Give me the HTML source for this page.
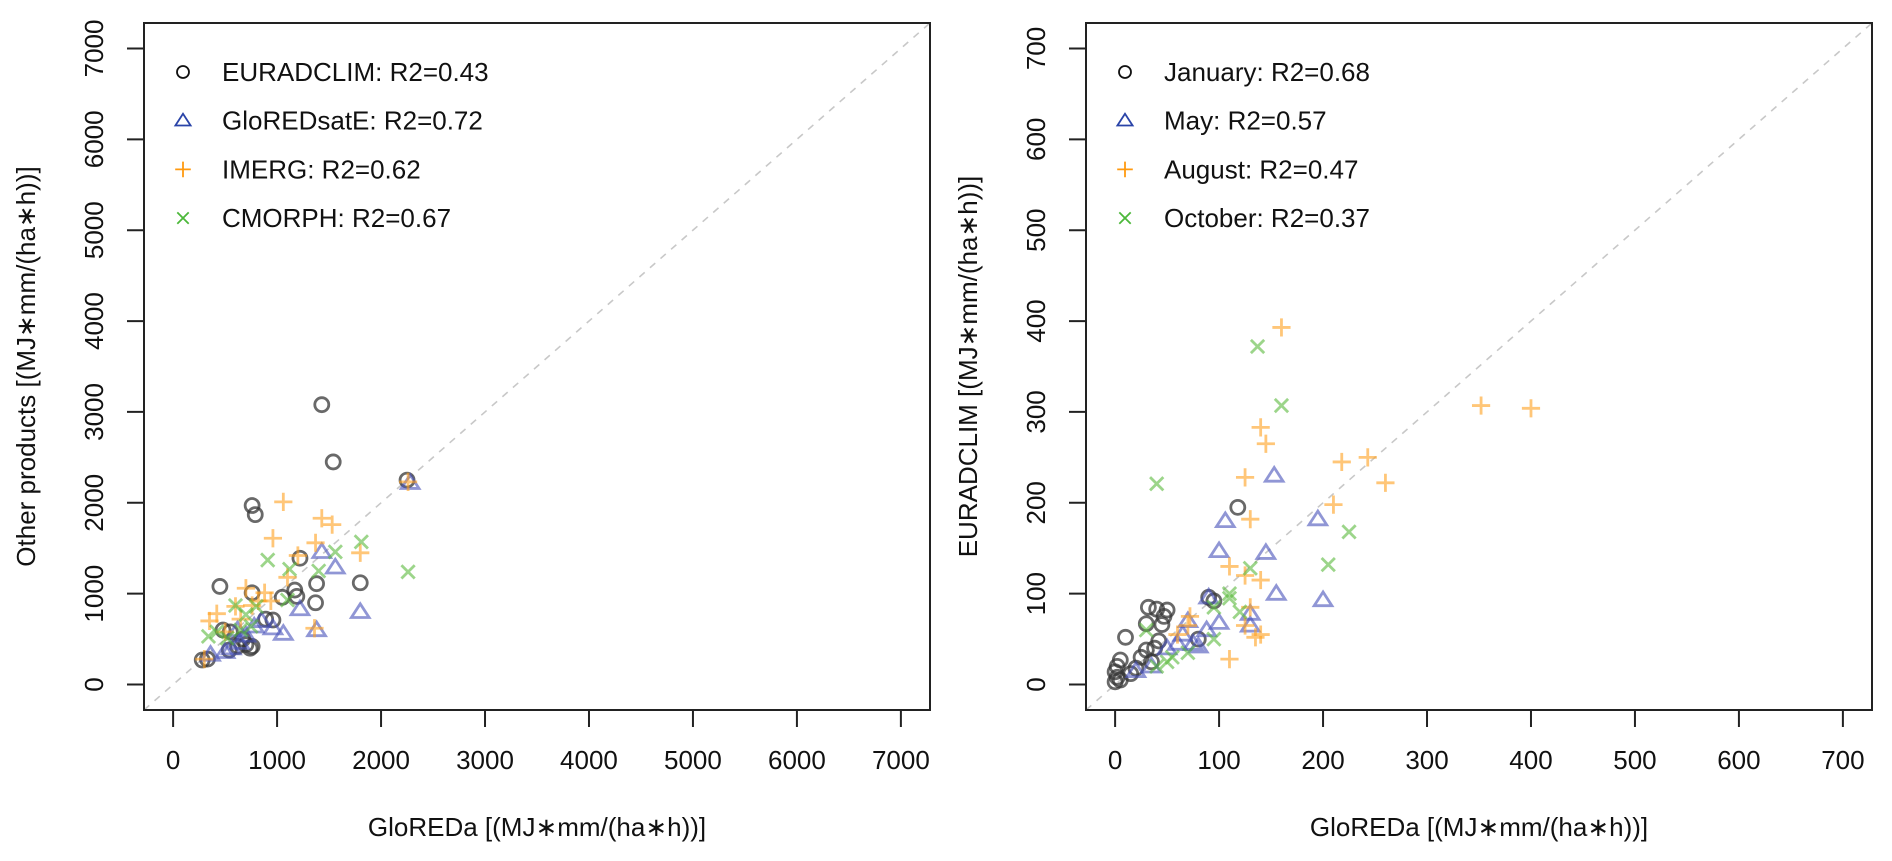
<!DOCTYPE html>
<html><head><meta charset="utf-8"><style>
html,body{margin:0;padding:0;background:#fff;}
svg{display:block;font-family:"Liberation Sans",Arial,sans-serif;}
</style></head><body>
<svg id="chart" width="1892" height="861" viewBox="0 0 1892 861" xmlns="http://www.w3.org/2000/svg"></svg>
<script>
// ---- Left panel data (GloREDa vs other products) ----
const euradX=[1430,1540,760,790,2250,1220,1800,1380,1170,1050,760,450,1190,1370,960,890,480,550,670,700,760,620,330,280,540,740];
const euradY=[3080,2450,1970,1870,2250,1390,1120,1110,1040,960,1010,1080,970,900,710,720,600,580,500,440,420,420,280,270,380,400];
const satX=[2280,1430,1560,1800,1380,1060,1220,960,780,700,560,500,360,640,850,620];
const satY=[2220,1460,1290,800,600,560,830,620,640,540,400,360,330,460,700,600];
const imergX=[1060,960,1430,1530,1800,1200,1370,1100,880,820,700,600,420,350,1360,760,500,300,2260,940,650];
const imergY=[2010,1610,1830,1760,1450,1420,1560,1180,1010,920,1060,860,780,700,620,870,580,280,2230,920,720];
const cmorphX=[910,1810,2260,1120,1560,600,420,340,700,750,800,520,650,1400,1100];
const cmorphY=[1370,1570,1240,1270,1460,870,580,530,770,640,860,510,600,1250,930];
const leftTicks=[0,1000,2000,3000,4000,5000,6000,7000];
const leftLegend=["EURADCLIM: R2=0.43","GloREDsatE: R2=0.72","IMERG: R2=0.62","CMORPH: R2=0.67"];
// ---- Right panel data (GloREDa vs EURADCLIM by month) ----
const janX=[118,32,40,50,47,45,30,10,42,38,5,2,0,2,0,5,15,20,95,90,80,30,25,35];
const janY=[195,85,83,82,75,66,67,52,48,40,27,20,14,8,3,5,12,18,92,96,50,38,30,25];
const mayX=[153,195,106,145,100,90,155,200,130,130,100,70,60,75,80,50,35,20,88,65];
const mayY=[230,182,180,145,147,96,100,93,78,65,68,70,45,45,42,40,20,15,60,55];
const augX=[160,140,145,125,218,243,260,210,352,400,130,125,140,110,130,110,135,140,60,70,72,125];
const augY=[393,283,265,228,245,250,222,198,307,304,182,120,115,130,85,28,52,55,55,65,75,65];
const octX=[137,160,40,225,205,130,120,110,95,95,50,55,40,70,30,110];
const octY=[372,307,221,168,132,128,80,95,85,50,25,30,20,35,60,100];
const rightTicks=[0,100,200,300,400,500,600,700];
const rightLegend=["January: R2=0.68","May: R2=0.57","August: R2=0.47","October: R2=0.37"];

const NS="http://www.w3.org/2000/svg";
const svg=document.getElementById('chart');
function mk(tag,attrs,parent){const e=document.createElementNS(NS,tag);for(const k in attrs)e.setAttribute(k,attrs[k]);(parent||svg).appendChild(e);return e;}

const COLS={circ:"rgba(55,55,55,0.75)",tri:"rgba(70,80,185,0.6)",plus:"rgba(255,160,30,0.6)",cross:"rgba(90,185,60,0.6)"};
const LCOLS={circ:"#111",tri:"#2a44a8",plus:"#ff9a10",cross:"#4cb83a"};

function marker(g,type,cx,cy,color,s,w){
  let e;
  if(type==='circ'){e=mk('circle',{cx:cx,cy:cy,r:s,fill:'none',stroke:color,'stroke-width':w},g);}
  else if(type==='tri'){const h=s*1.15;e=mk('polygon',{points:`${cx},${cy-h} ${cx-h*1.1},${cy+h*0.7} ${cx+h*1.1},${cy+h*0.7}`,fill:'none',stroke:color,'stroke-width':w},g);}
  else if(type==='plus'){e=mk('path',{d:`M${cx-s*1.3},${cy}H${cx+s*1.3}M${cx},${cy-s*1.3}V${cy+s*1.3}`,stroke:color,'stroke-width':w,fill:'none'},g);}
  else {const d=s*0.95;e=mk('path',{d:`M${cx-d},${cy-d}L${cx+d},${cy+d}M${cx-d},${cy+d}L${cx+d},${cy-d}`,stroke:color,'stroke-width':w,fill:'none'},g);}
  return e;
}

function panel(cfg){
  const {L,R,T,B,max,ticks,name,ylabel,series,legend}=cfg;
  const ext=max*0.04;
  const xs=v=>L+(v+ext)/(max+2*ext)*(R-L);
  const ys=v=>B-(v+ext)/(max+2*ext)*(B-T);
  const g=mk('g',{});
  
  
  const dl=mk('line',{x1:xs(-ext),y1:ys(-ext),x2:xs(max+ext),y2:ys(max+ext),stroke:'#c8c8c8','stroke-width':1.6,'stroke-dasharray':'7,7'},g);
  
  
  const bx=mk('rect',{x:L,y:T,width:R-L,height:B-T,fill:'none',stroke:'#222','stroke-width':2},g);
  
  
  ticks.forEach(t=>{
    mk('line',{x1:xs(t),y1:B,x2:xs(t),y2:B+17,stroke:'#222','stroke-width':2},g);
    const tx=mk('text',{x:xs(t),y:B+59,'font-size':26,'text-anchor':'middle',fill:'#111'},g);
    tx.textContent=t;
    
    
    mk('line',{x1:L,y1:ys(t),x2:L-17,y2:ys(t),stroke:'#222','stroke-width':2},g);
    const yt=mk('text',{x:L-41,y:ys(t),'font-size':26,'text-anchor':'middle',fill:'#111',transform:`rotate(-90 ${L-41} ${ys(t)})`},g);
    yt.textContent=t;
    
    
  });
  const xt=mk('text',{x:(L+R)/2,y:836,'font-size':26,'text-anchor':'middle',fill:'#111'},g);
  xt.textContent='GloREDa [(MJ\u2217mm/(ha\u2217h))]';
  
  
  const yc=(T+B)/2, yx=L-109;
  const yl=mk('text',{x:yx,y:yc,'font-size':26,'text-anchor':'middle',fill:'#111',transform:`rotate(-90 ${yx} ${yc})`},g);
  yl.textContent=ylabel;
  
  
  series.forEach(s=>{
    const sg=mk('g',{},g);
    
    
    s.x.forEach((v,i)=>{
      const m=marker(sg,s.type,xs(v),ys(s.y[i]),COLS[s.type],7,2.8);
      
      
    });
  });
  const lg=mk('g',{},g);
  
  
  series.forEach((s,i)=>{
    const y=72+i*48.7;
    const m=marker(lg,s.type,L+39,y,LCOLS[s.type],6,1.8);
    
    
    const t=mk('text',{x:L+78,y:y+9,'font-size':26,fill:'#111'},lg);
    t.textContent=legend[i];
    
    
  });
}

panel({L:144,R:930,T:23,B:710,max:7000,ticks:leftTicks,name:'left-panel',ylabel:'Other products [(MJ\u2217mm/(ha\u2217h))]',legend:leftLegend,
  series:[{name:'euradclim',type:'circ',x:euradX,y:euradY},{name:'gloredsate',type:'tri',x:satX,y:satY},{name:'imerg',type:'plus',x:imergX,y:imergY},{name:'cmorph',type:'cross',x:cmorphX,y:cmorphY}]});
panel({L:1086,R:1872,T:23,B:710,max:700,ticks:rightTicks,name:'right-panel',ylabel:'EURADCLIM [(MJ\u2217mm/(ha\u2217h))]',legend:rightLegend,
  series:[{name:'january',type:'circ',x:janX,y:janY},{name:'may',type:'tri',x:mayX,y:mayY},{name:'august',type:'plus',x:augX,y:augY},{name:'october',type:'cross',x:octX,y:octY}]});
</script>
</body></html>
